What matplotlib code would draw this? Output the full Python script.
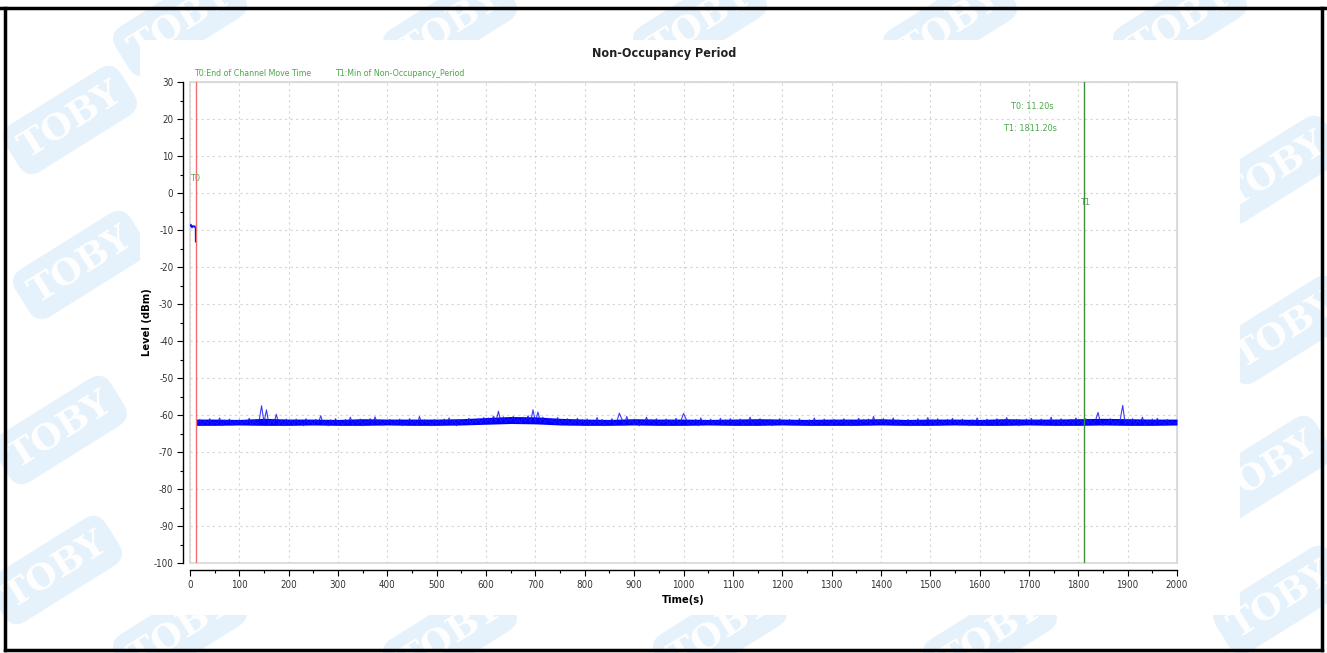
import numpy as np
import matplotlib.pyplot as plt
from matplotlib.patches import Rectangle
from matplotlib.lines import Line2D
from matplotlib.ticker import MultipleLocator

plt.rcParams["axes.unicode_minus"] = False

# data
t0_time = 11.2
t1_time = 1811.2

start_t = [0, 2, 4, 6, 8, 10, 11, 11.2]
start_level = [-9.0, -8.5, -9.4, -8.8, -9.2, -8.9, -9.5, -13.2]

# noise floor, one value every 5 s from 15 s to 2000 s
noise_level = [
    -62.4, -61.2, -62.9, -61.5, -62.3, -61.0, -62.7, -61.8, -62.5, -60.8, -62.9, -61.4, -62.1, -61.1, -62.8, -61.6, -62.4, -61.3,
    -62.6, -61.5, -62.2, -60.9, -62.8, -61.4, -62.5, -61.7, -57.5, -62.0, -58.6, -62.7, -61.4, -62.3, -59.8, -62.6, -61.5, -62.9, -61.1, -62.4,
    -61.4, -62.8, -61.1, -62.3, -61.7, -62.9, -61.0, -62.4, -61.6, -62.7, -61.2, -62.2, -60.2, -62.6, -61.5, -62.9, -61.3, -62.4, -61.0, -62.5,
    -61.6, -62.8, -61.2, -62.3, -60.6, -62.7, -61.4, -62.5, -61.1, -62.9, -61.7, -62.2, -61.0, -62.6, -60.5, -62.4, -61.3, -62.8, -61.5, -62.3,
    -61.2, -62.7, -61.6, -62.4, -61.1, -62.9, -61.8, -62.3, -61.0, -62.6, -61.4, -62.8, -60.4, -62.5, -61.3, -62.2, -61.7, -62.9, -61.2, -62.4,
    -61.5, -62.7, -61.1, -62.3, -60.8, -62.6, -61.4, -62.9, -61.2, -62.4, -61.6, -62.2, -60.9, -62.5, -61.3, -62.0, -61.0, -62.3, -60.7, -61.9,
    -60.8, -62.0, -60.3, -61.7, -59.0, -61.8, -60.5, -62.1, -60.9, -61.6, -60.4, -62.0, -61.1, -62.3, -60.6, -61.8, -60.2, -62.1, -58.6, -61.9,
    -59.2, -61.8, -60.6, -62.2, -60.9, -61.7, -61.2, -62.4, -60.7, -62.6, -61.4, -62.1, -61.0, -62.8, -61.5, -62.3, -60.9, -62.6, -61.3, -62.4,
    -61.1, -62.7, -61.6, -62.3, -60.7, -62.5, -61.2, -62.9, -61.5, -62.2, -61.0, -62.6, -61.7, -59.5, -61.1, -62.8, -60.4, -62.3, -61.4, -62.6,
    -61.2, -62.9, -61.6, -62.4, -60.6, -62.3, -61.3, -62.7, -61.0, -62.5, -61.6, -62.2, -61.1, -62.8, -61.4, -62.4, -60.9, -62.6, -61.5, -59.6,
    -61.0, -62.7, -61.7, -62.4, -61.2, -62.9, -60.8, -62.3, -61.4, -62.6, -61.1, -62.5, -61.6, -62.2, -60.9, -62.8, -61.3, -62.4, -61.0, -62.6,
    -61.5, -62.3, -61.1, -62.8, -61.7, -62.4, -60.6, -62.6, -61.3, -62.2, -61.0, -62.7, -61.6, -62.5, -61.2, -62.9, -61.4, -62.3, -61.0, -62.6,
    -61.6, -62.4, -61.2, -62.8, -61.5, -62.3, -61.0, -62.7, -61.7, -62.5, -61.3, -62.9, -60.8, -62.4, -61.4, -62.6, -61.1, -62.3, -61.6, -62.8,
    -61.2, -62.5, -61.5, -62.3, -61.0, -62.7, -61.4, -62.9, -61.6, -62.4, -60.9, -62.6, -61.3, -62.2, -61.1, -62.8, -60.4, -62.5, -61.4, -62.3,
    -61.0, -62.6, -61.5, -62.4, -60.8, -62.8, -61.3, -62.5, -61.7, -62.3, -61.2, -62.9, -61.5, -62.4, -61.0, -62.7, -61.6, -62.3, -60.7, -62.6,
    -61.3, -62.5, -61.0, -62.8, -61.6, -62.4, -61.2, -62.6, -60.9, -62.3, -61.5, -62.7, -61.1, -62.4, -61.7, -62.9, -61.3, -62.5, -60.8, -62.4,
    -61.4, -62.6, -61.1, -62.3, -61.6, -62.8, -61.0, -62.5, -61.4, -62.2, -60.7, -62.7, -61.5, -62.4, -61.2, -62.9, -61.6, -62.3, -61.1, -62.5,
    -60.9, -62.6, -61.4, -62.3, -61.1, -62.8, -61.6, -62.4, -60.6, -62.7, -61.3, -62.5, -61.0, -62.9, -61.5, -62.3, -61.2, -62.6, -60.8, -62.4,
    -61.3, -62.5, -61.0, -62.3, -61.4, -62.6, -61.4, -59.3, -62.1, -62.8, -61.6, -62.3, -61.0, -62.5, -61.5, -62.7, -61.2, -57.4, -62.4, -61.3,
    -62.5, -61.0, -62.7, -61.4, -62.3, -60.6, -62.8, -61.5, -62.4, -61.1, -62.6, -60.9, -62.3, -61.6, -62.8, -61.2, -62.5, -61.7, -62.4, -61.9,
]
noise_t = np.arange(15, 2001, 5)

# solid core of the noise band, read every 50 s
band_t = [12] + list(range(50, 2001, 50))
band_upper = [-61.1, -61.1, -61.2, -60.9, -61.1, -61.1, -61.2, -61.0, -61.1, -61.1,
              -61.1, -61.0, -60.7, -60.4, -60.5, -60.9, -61.1, -61.2, -61.0, -61.1,
              -61.1, -61.2, -61.1, -61.0, -61.1, -61.2, -61.1, -61.1, -61.0, -61.2,
              -61.1, -61.1, -61.2, -61.0, -61.1, -61.1, -61.0, -60.9, -61.0, -61.1, -61.1]
band_lower = [-62.8, -62.8, -62.7, -62.8, -62.8, -62.7, -62.8, -62.8, -62.7, -62.8,
              -62.8, -62.7, -62.5, -62.3, -62.4, -62.7, -62.8, -62.8, -62.7, -62.8,
              -62.8, -62.7, -62.8, -62.8, -62.7, -62.8, -62.8, -62.8, -62.7, -62.8,
              -62.8, -62.7, -62.8, -62.8, -62.7, -62.8, -62.8, -62.7, -62.8, -62.8, -62.7]

x_ticks = list(range(0, 2001, 100))
y_ticks = list(range(-100, 31, 10))

fam = ["DejaVu Sans"]
stretch = "condensed"
green = "#4ca64c"

W, H = 1327, 653
fig = plt.figure(figsize=(W / 100, H / 100), dpi=100)

# watermark behind the chart image
wm_pos = [(70, 120), (80, 265), (60, 430), (55, 570), (180, 22), (450, 25),
          (700, 22), (950, 25), (1180, 22), (1275, 170), (1285, 330), (1265, 470),
          (1280, 600), (180, 630), (450, 635), (720, 630), (990, 635)]
for px, py in wm_pos:
    fig.text(px / W, 1 - py / H, "TOBY", rotation=32, ha="center", va="center",
             fontsize=26, fontweight="bold", family="DejaVu Serif", color="white",
             zorder=-3,
             bbox=dict(boxstyle="round,pad=0.3,rounding_size=0.45",
                       fc="#e6f2fb", ec="none"))

fig.add_artist(Rectangle((140 / W, 1 - 615 / H), 1100 / W, 575 / H,
                         transform=fig.transFigure, fc="white", ec="none", zorder=-1))

# outer frame
frame_kw = dict(transform=fig.transFigure, color="black", lw=2.5, zorder=5)
fig.add_artist(Line2D([0, 1], [1 - 8 / H, 1 - 8 / H], **frame_kw))
fig.add_artist(Line2D([5 / W, 5 / W], [1 - 8 / H, 1 - 650 / H], **frame_kw))
fig.add_artist(Line2D([1322 / W, 1322 / W], [1 - 8 / H, 1 - 650 / H], **frame_kw))
fig.add_artist(Line2D([5 / W, 1322 / W], [1 - 650 / H, 1 - 650 / H], **frame_kw))

ax = fig.add_axes([190 / W, 1 - 563 / H, 987 / W, 481 / H])
ax.set_xlim(0, 2000)
ax.set_ylim(-100, 30)

ax.plot(start_t, start_level, color="#0000ff", lw=0.9, zorder=3)
ax.fill_between(band_t, band_lower, band_upper, color="#0000ff", lw=0, zorder=3)
ax.plot(noise_t, noise_level, color="#1a1aff", lw=0.8, alpha=0.85, zorder=3)

ax.axvline(t0_time, color="#f07070", lw=1.0, zorder=4)
ax.axvline(t1_time, color="#3d8f3d", lw=1.0, zorder=4)

ax.set_xticks(x_ticks)
ax.set_yticks(y_ticks)
ax.xaxis.set_minor_locator(MultipleLocator(50))
ax.yaxis.set_minor_locator(MultipleLocator(5))
ax.grid(True, which="major", color="#d4d4d4", ls=(0, (2, 3)), lw=0.8)

for s in ["top", "right"]:
    ax.spines[s].set_color("#d8d8d8")
for s in ["left", "bottom"]:
    ax.spines[s].set_position(("outward", 5))
    ax.spines[s].set_color("black")
    ax.spines[s].set_linewidth(1.0)
ax.add_patch(Rectangle((0, 0), 1, 1, transform=ax.transAxes, fill=False,
                       ec="#d8d8d8", lw=1.2, zorder=1, clip_on=False))

ax.tick_params(which="major", length=4, width=0.8, colors="black", labelcolor="#333333",
               labelsize=7, pad=3)
ax.tick_params(which="minor", length=2.5, width=0.8, colors="black")
for lab in ax.get_xticklabels() + ax.get_yticklabels():
    lab.set_family(fam)
    lab.set_fontstretch(stretch)

ax.set_xlabel("Time(s)", family=fam, fontstretch=stretch, fontweight="bold",
              fontsize=8, labelpad=4)
ax.set_ylabel("Level (dBm)", family=fam, fontstretch=stretch, fontweight="bold",
              fontsize=8, labelpad=1)

fig.text(664 / W, 1 - 54 / H, "Non-Occupancy Period", ha="center", va="center",
         family=fam, fontstretch=stretch, fontweight="bold", fontsize=9, color="#222222")
fig.text(194 / W, 1 - 73 / H, "T0:End of Channel Move Time", ha="left", va="center",
         family=fam, fontstretch=stretch, fontsize=6.3, color=green)
fig.text(335 / W, 1 - 73 / H, "T1:Min of Non-Occupancy_Period", ha="left", va="center",
         family=fam, fontstretch=stretch, fontsize=6.3, color=green)

txt_kw = dict(family=fam, fontstretch=stretch, fontsize=6.5, color=green, va="center")
ax.text(t0_time - 9, 4, "T0", ha="left", **txt_kw)
ax.text(t1_time - 6, -2.5, "T1", ha="left", **txt_kw)
ax.text(1706, 23.5, "T0: 11.20s", ha="center", **txt_kw)
ax.text(1704, 17.3, "T1: 1811.20s", ha="center", **txt_kw)

fig.savefig("out.png", dpi=100)
